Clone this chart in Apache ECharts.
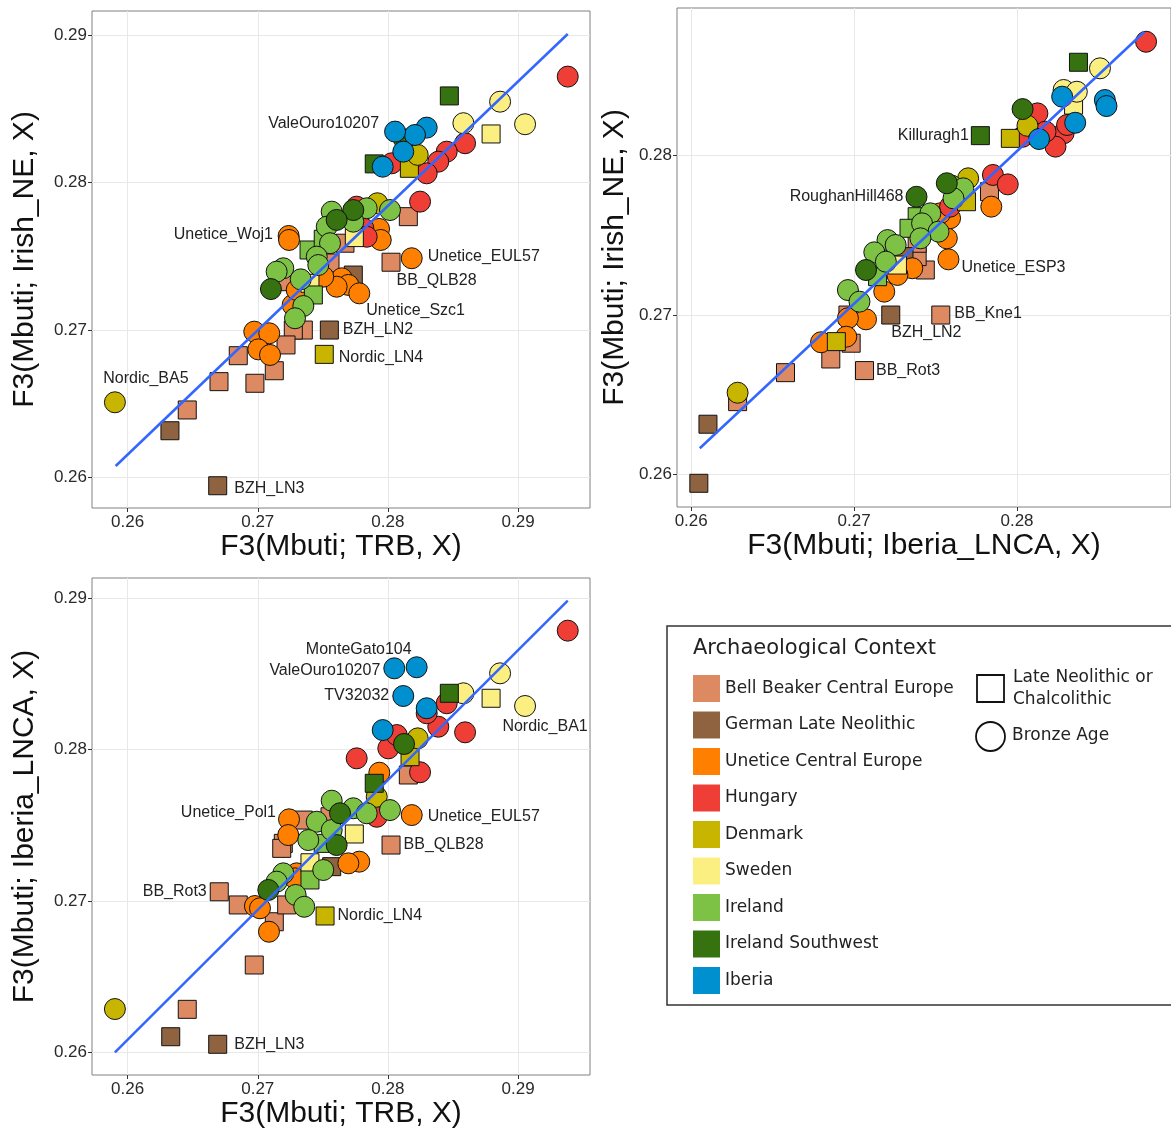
<!DOCTYPE html>
<html><head><meta charset="utf-8">
<script src="https://cdn.jsdelivr.net/npm/echarts@6/dist/echarts.min.js"></script>
<style>html,body{margin:0;padding:0;background:#fff}#c{width:1171px;height:1140px}</style>
</head><body><div id="c"></div>
<script>
// ---------- categories ----------
const groupNames = ['Bell Beaker Central Europe','German Late Neolithic','Unetice Central Europe','Hungary','Denmark','Sweden','Ireland','Ireland Southwest','Iberia'];
const groupColors = ['#DD8A63','#8F6340','#FF8000','#EE3E36','#C8B500','#FCEF82','#7DC245','#377210','#0090CF'];
const periodNames = ['Late Neolithic or\nChalcolithic','Bronze Age'];

// ---------- tick labels ----------
const ticksTRB = [0.26,0.27,0.28,0.29];
const minorTRB = [0.265,0.275,0.285,0.295];
const ticksIrishNE = [0.26,0.27,0.28,0.29];
const ticksIrishNE2 = [0.26,0.27,0.28];
const minorY = [0.265,0.275,0.285];
const ticksIberia = [0.26,0.27,0.28];
const minorIberia = [0.265,0.275,0.285];

// ---------- panel 1: x = F3(Mbuti; TRB, X), y = F3(Mbuti; Irish_NE, X) ----------
// [x, y, period ('LN' square / 'BA' circle), label]
const p1_BellBeaker = [[0.28157,0.27768,'LN'],[0.28024,0.27459,'LN','BB_QLB28'],[0.2735,0.26999,'LN'],[0.27273,0.26999,'LN'],[0.27217,0.26898,'LN'],[0.2685,0.26825,'LN'],[0.27127,0.26723,'LN'],[0.26702,0.26649,'LN'],[0.26978,0.26638,'LN'],[0.26458,0.26457,'LN'],[0.27222,0.27327,'LN'],[0.27555,0.27454,'LN'],[0.2767,0.27588,'LN']];
const p1_GermanLN = [[0.2755,0.26999,'LN','BZH_LN2'],[0.27734,0.27372,'LN'],[0.26325,0.26316,'LN'],[0.26692,0.25943,'LN','BZH_LN3']];
const p1_Unetice = [[0.27237,0.27637,'BA'],[0.2724,0.2761,'BA','Unetice_Woj1'],[0.28183,0.27486,'BA','Unetice_EUL57'],[0.27645,0.2735,'BA'],[0.27696,0.27305,'BA'],[0.27606,0.27293,'BA'],[0.27503,0.27361,'BA'],[0.2778,0.27248,'BA','Unetice_Szc1'],[0.27932,0.27685,'BA'],[0.27945,0.2761,'BA'],[0.26973,0.26988,'BA'],[0.27088,0.26977,'BA'],[0.27004,0.26868,'BA'],[0.27094,0.2683,'BA'],[0.27268,0.27169,'BA'],[0.27299,0.27271,'BA']];
const p1_Hungary = [[0.29382,0.28718,'BA'],[0.28593,0.28266,'BA'],[0.28452,0.28209,'BA'],[0.28387,0.28141,'BA'],[0.28298,0.28062,'BA'],[0.28247,0.2787,'BA'],[0.28029,0.2813,'BA'],[0.27811,0.27689,'BA'],[0.2776,0.27836,'BA'],[0.27837,0.27632,'BA']];
const p1_Denmark = [[0.28165,0.28096,'LN'],[0.27511,0.26834,'LN','Nordic_LN4'],[0.28229,0.28187,'BA'],[0.27919,0.27859,'BA'],[0.25902,0.26509,'BA','Nordic_BA5']];
const p1_Sweden = [[0.28793,0.28329,'LN'],[0.27742,0.27626,'LN'],[0.27401,0.27316,'LN'],[0.28862,0.28548,'BA'],[0.2858,0.28402,'BA'],[0.29054,0.28395,'BA']];
const p1_Ireland = [[0.27394,0.27542,'LN'],[0.27503,0.27615,'LN'],[0.27427,0.27237,'LN'],[0.27568,0.27802,'BA'],[0.27837,0.27825,'BA'],[0.28016,0.27813,'BA'],[0.27734,0.27734,'BA'],[0.2753,0.277,'BA'],[0.27555,0.27588,'BA'],[0.27453,0.27497,'BA'],[0.27465,0.2744,'BA'],[0.27196,0.27418,'BA'],[0.27145,0.27395,'BA'],[0.2733,0.27343,'BA'],[0.2735,0.27162,'BA'],[0.27286,0.27079,'BA']];
const p1_IrelandSW = [[0.28472,0.28587,'LN'],[0.27895,0.28126,'LN'],[0.27734,0.27813,'BA'],[0.27606,0.27746,'BA'],[0.27101,0.27277,'BA'],[0.28124,0.28293,'BA']];
const p1_Iberia = [[0.28298,0.28372,'BA'],[0.28208,0.28322,'BA'],[0.28118,0.28209,'BA'],[0.2796,0.28107,'BA'],[0.28055,0.28345,'BA','ValeOuro10207']];
const p1_fit = [[0.25908,0.26077],[0.29382,0.29007]];

// ---------- panel 2: x = F3(Mbuti; Iberia_LNCA, X), y = F3(Mbuti; Irish_NE, X) ----------
const p2_BellBeaker = [[0.27532,0.26999,'LN','BB_Kne1'],[0.27064,0.2665,'LN','BB_Rot3'],[0.26579,0.26637,'LN'],[0.26857,0.26723,'LN'],[0.26285,0.26455,'LN'],[0.26982,0.26822,'LN'],[0.26962,0.26999,'LN'],[0.27437,0.27282,'LN'],[0.27387,0.27366,'LN'],[0.27387,0.2745,'LN'],[0.27831,0.27774,'LN']];
const p2_GermanLN = [[0.27225,0.26999,'LN','BZH_LN2'],[0.26103,0.26313,'LN'],[0.26047,0.25942,'LN'],[0.27306,0.27366,'LN']];
const p2_Unetice = [[0.27579,0.27349,'BA','Unetice_ESP3'],[0.27842,0.2768,'BA'],[0.27569,0.27481,'BA'],[0.27589,0.27607,'BA'],[0.27357,0.27293,'BA'],[0.27266,0.27251,'BA'],[0.27185,0.27146,'BA'],[0.27073,0.26972,'BA'],[0.26962,0.26979,'BA'],[0.26952,0.26863,'BA'],[0.26797,0.26828,'BA'],[0.27528,0.27638,'BA']];
const p2_Hungary = [[0.28792,0.28716,'BA'],[0.28125,0.28266,'BA'],[0.28286,0.28141,'BA'],[0.28236,0.28057,'BA'],[0.28307,0.28193,'BA'],[0.28175,0.28151,'BA'],[0.27852,0.27879,'BA'],[0.27943,0.2782,'BA'],[0.27589,0.2768,'BA'],[0.28034,0.28119,'BA']];
const p2_Denmark = [[0.27959,0.28109,'LN'],[0.2769,0.27711,'LN'],[0.26891,0.26832,'LN'],[0.28064,0.28188,'BA'],[0.277,0.27858,'BA'],[0.26285,0.26511,'BA']];
const p2_Sweden = [[0.28347,0.28318,'LN'],[0.27266,0.27313,'LN'],[0.28509,0.28549,'BA'],[0.28286,0.28413,'BA'],[0.28367,0.28402,'BA']];
const p2_Ireland = [[0.27387,0.27617,'LN'],[0.27337,0.27544,'LN'],[0.27144,0.2724,'LN'],[0.27599,0.27812,'BA'],[0.2767,0.27795,'BA'],[0.2761,0.27732,'BA'],[0.27468,0.27638,'BA'],[0.27417,0.27575,'BA'],[0.27518,0.27523,'BA'],[0.27407,0.27481,'BA'],[0.27205,0.2747,'BA'],[0.27255,0.27439,'BA'],[0.27124,0.27393,'BA'],[0.27195,0.27334,'BA'],[0.26962,0.27156,'BA'],[0.27033,0.27083,'BA']];
const p2_IrelandSW = [[0.28377,0.28587,'LN'],[0.27775,0.28126,'LN','Killuragh1'],[0.28034,0.28293,'BA'],[0.27569,0.27827,'BA'],[0.27073,0.27282,'BA'],[0.27383,0.27742,'BA','RoughanHill468']];
const p2_Iberia = [[0.28277,0.28371,'BA'],[0.28539,0.2835,'BA'],[0.28549,0.28312,'BA'],[0.28357,0.28207,'BA'],[0.28135,0.28105,'BA']];
const p2_fit = [[0.26053,0.26162],[0.28782,0.28779]];

// ---------- panel 3: x = F3(Mbuti; TRB, X), y = F3(Mbuti; Iberia_LNCA, X) ----------
const p3_BellBeaker = [[0.28024,0.2737,'LN','BB_QLB28'],[0.26704,0.27061,'LN','BB_Rot3'],[0.2685,0.26974,'LN'],[0.26973,0.26577,'LN'],[0.26458,0.26284,'LN'],[0.28157,0.27833,'LN'],[0.2735,0.27535,'LN'],[0.27196,0.27381,'LN'],[0.27184,0.27348,'LN'],[0.27127,0.26863,'LN'],[0.27222,0.26974,'LN'],[0.27555,0.27557,'LN']];
const p3_GermanLN = [[0.26692,0.26053,'LN','BZH_LN3'],[0.26331,0.26103,'LN'],[0.27568,0.27227,'LN']];
const p3_Unetice = [[0.2724,0.2754,'BA','Unetice_Pol1'],[0.27234,0.27436,'BA'],[0.28183,0.27568,'BA','Unetice_EUL57'],[0.2778,0.2726,'BA'],[0.27696,0.27249,'BA'],[0.27934,0.27848,'BA'],[0.27939,0.27601,'BA'],[0.26978,0.26967,'BA'],[0.27017,0.26952,'BA'],[0.27086,0.26797,'BA'],[0.27299,0.27183,'BA'],[0.27286,0.2715,'BA']];
const p3_Hungary = [[0.29382,0.28787,'BA'],[0.28593,0.28115,'BA'],[0.28387,0.28152,'BA'],[0.28452,0.28307,'BA'],[0.28298,0.28241,'BA'],[0.28247,0.27851,'BA'],[0.2776,0.27943,'BA'],[0.28003,0.28009,'BA'],[0.28068,0.28097,'BA'],[0.27914,0.27557,'BA']];
const p3_Denmark = [[0.2817,0.27954,'LN'],[0.27517,0.26901,'LN','Nordic_LN4'],[0.28229,0.28075,'BA'],[0.25902,0.26286,'BA'],[0.27914,0.27689,'BA']];
const p3_Sweden = [[0.28793,0.2834,'LN'],[0.27742,0.27443,'LN'],[0.27401,0.27253,'LN'],[0.28862,0.28505,'BA'],[0.2858,0.28373,'BA'],[0.29054,0.28289,'BA','Nordic_BA1']];
const p3_Ireland = [[0.27503,0.27381,'LN'],[0.27401,0.27139,'LN'],[0.27568,0.27663,'BA'],[0.27453,0.27524,'BA'],[0.27734,0.27613,'BA'],[0.27837,0.2758,'BA'],[0.28016,0.27601,'BA'],[0.27568,0.27469,'BA'],[0.27388,0.27403,'BA'],[0.27503,0.27205,'BA'],[0.27196,0.27183,'BA'],[0.27145,0.27128,'BA'],[0.27291,0.2704,'BA'],[0.27357,0.26962,'BA']];
const p3_IrelandSW = [[0.28472,0.28373,'LN'],[0.27895,0.27778,'LN'],[0.28124,0.28038,'BA'],[0.27606,0.2737,'BA'],[0.27632,0.2758,'BA'],[0.27081,0.27073,'BA']];
const p3_Iberia = [[0.28298,0.28274,'BA'],[0.2796,0.2813,'BA'],[0.28221,0.28545,'BA','MonteGato104'],[0.28049,0.28538,'BA','ValeOuro10207'],[0.28118,0.28355,'BA','TV32032']];
const p3_fit = [[0.25902,0.26],[0.29382,0.28985]];

// ---------- layout / style (not data) ----------
const panels = [
  {groups:[p1_BellBeaker,p1_GermanLN,p1_Unetice,p1_Hungary,p1_Denmark,p1_Sweden,p1_Ireland,p1_IrelandSW,p1_Iberia], fit:p1_fit,
   grid:{left:92,top:11,width:498,height:497}, x:[0.25726,0.29553], y:[0.25792,0.29163],
   xt:ticksTRB, xm:minorTRB, yt:ticksIrishNE, ym:minorY, xname:'F3(Mbuti; TRB, X)', yname:'F3(Mbuti; Irish_NE, X)', ygap:52,
   labels:{ValeOuro10207:['left',[0,-8]],Unetice_Woj1:['left',[0,-5]],Unetice_EUL57:['right',[0,-2]],BB_QLB28:['right',[-9,18]],Unetice_Szc1:['right',[-9,17]],BZH_LN2:['right',[-1,0]],Nordic_LN4:['right',[0,3]],Nordic_BA5:['top',[31,0]],BZH_LN3:['right',[2,3]]}},
  {groups:[p2_BellBeaker,p2_GermanLN,p2_Unetice,p2_Hungary,p2_Denmark,p2_Sweden,p2_Ireland,p2_IrelandSW,p2_Iberia], fit:p2_fit,
   grid:{left:677,top:8,width:500,height:499}, x:[0.25913,0.28945], y:[0.25793,0.28928],
   xt:ticksIberia, xm:minorIberia, yt:ticksIrishNE2, ym:minorY, xname:'F3(Mbuti; Iberia_LNCA, X)', yname:'F3(Mbuti; Irish_NE, X)', ygap:47,
   labels:{Killuragh1:['left',[3,0]],RoughanHill468:['left',[3,0]],Unetice_ESP3:['right',[-3,8]],BB_Kne1:['right',[-1,-1]],BZH_LN2:['right',[-14,18]],BB_Rot3:['right',[-3,0]]}},
  {groups:[p3_BellBeaker,p3_GermanLN,p3_Unetice,p3_Hungary,p3_Denmark,p3_Sweden,p3_Ireland,p3_IrelandSW,p3_Iberia], fit:p3_fit,
   grid:{left:92,top:578,width:498,height:497}, x:[0.25726,0.29553], y:[0.2585,0.29135],
   xt:ticksTRB, xm:minorTRB, yt:ticksIrishNE, ym:minorY, xname:'F3(Mbuti; TRB, X)', yname:'F3(Mbuti; Iberia_LNCA, X)', ygap:52,
   labels:{MonteGato104:['left',[11,-18]],ValeOuro10207:['left',[2,2]],TV32032:['left',[2,0]],Nordic_BA1:['bottom',[20,-3]],Unetice_Pol1:['left',[3,-7]],Unetice_EUL57:['right',[0,2]],BB_QLB28:['right',[-2,0]],BB_Rot3:['left',[2,0]],Nordic_LN4:['right',[-2,0]],BZH_LN3:['right',[2,0]]}}
];

const FONT = 'Liberation Sans, Arial, Helvetica, sans-serif';
const LFONT = 'DejaVu Sans, Verdana, sans-serif';

const grids = [], xAxes = [], yAxes = [], series = [];
panels.forEach((p, i) => {
  grids.push(Object.assign({show:true, borderColor:'#808080', borderWidth:1, backgroundColor:'#fff'}, p.grid));
  const common = {
    type:'value', gridIndex:i, scale:true,
    axisLine:{show:false}, splitLine:{show:false},
    axisTick:{show:true, customValues:null, length:4, lineStyle:{color:'#333', width:1}},
    axisLabel:{customValues:null, fontSize:17, color:'#2a2a2a', fontFamily:FONT},
    nameLocation:'middle', nameTextStyle:{fontSize:30, color:'#111', fontFamily:FONT}
  };
  const fmt = v => v.toFixed(2);
  const xa = JSON.parse(JSON.stringify(common));
  xa.axisLabel.formatter = fmt;
  xa.min = p.x[0]; xa.max = p.x[1];
  xa.axisTick.customValues = p.xt; xa.axisLabel.customValues = p.xt; xa.axisLabel.margin = 6;
  xa.name = p.xname; xa.nameGap = 24;
  xAxes.push(xa);
  const ya = JSON.parse(JSON.stringify(common));
  ya.axisLabel.formatter = fmt;
  ya.min = p.y[0]; ya.max = p.y[1];
  ya.axisTick.customValues = p.yt; ya.axisLabel.customValues = p.yt; ya.axisLabel.margin = 5;
  ya.name = p.yname; ya.nameGap = p.ygap;
  yAxes.push(ya);

  // grid lines through the axes' scales
  const gl = (vals, key, color) => vals.map(v => ({[key]: v, lineStyle:{color:color, width:1, type:'solid'}}));
  series.push({type:'scatter', xAxisIndex:i, yAxisIndex:i, data:[], silent:true,
    markLine:{silent:true, symbol:'none', label:{show:false}, z:1, animation:false,
      data:[].concat(gl(p.xm,'xAxis','#f3f3f3'), gl(p.ym,'yAxis','#f3f3f3'), gl(p.xt,'xAxis','#e8e8e8'), gl(p.yt,'yAxis','#e8e8e8'))}});

  p.groups.forEach((arr, g) => {
    series.push({
      type:'scatter', name:groupNames[g], xAxisIndex:i, yAxisIndex:i, z:2,
      itemStyle:{color:groupColors[g], borderColor:'#111', borderWidth:1, opacity:1},
      emphasis:{disabled:true},
      data: arr.map(d => {
        const item = {value:[d[0], d[1]], symbol: d[2]==='LN' ? 'rect' : 'circle', symbolSize: d[2]==='LN' ? 18 : 21};
        if (d[3]) {
          const pl = p.labels[d[3]] || ['right',[0,0]];
          item.name = d[3];
          item.label = {show:true, formatter:d[3], position:pl[0], offset:pl[1], distance:5,
            fontSize:16, color:'#222', fontFamily:FONT};
        }
        return item;
      })
    });
  });
  series.push({type:'line', xAxisIndex:i, yAxisIndex:i, data:p.fit, symbol:'none', z:3, silent:true,
    lineStyle:{color:'#3366FF', width:2.5}});
});

const chart = echarts.init(document.getElementById('c'), null, {renderer:'canvas'});
chart.setOption({
  animation:false,
  backgroundColor:'#fff',
  grid:grids, xAxis:xAxes, yAxis:yAxes, series:series,
  legend:{data:groupNames, orient:'vertical', left:693, top:675, padding:0, itemWidth:27, itemHeight:27, itemGap:9.5,
    icon:'rect', itemStyle:{borderWidth:0}, selectedMode:false,
    textStyle:{fontFamily:LFONT, fontSize:17, color:'#222'}},
  graphic:[
    {type:'rect', shape:{x:667, y:626, width:520, height:379}, style:{fill:'none', stroke:'#333', lineWidth:1.5}, z:-1},
    {type:'text', x:693, y:649, style:{text:'Archaeological Context', fontFamily:LFONT, fontSize:21, fill:'#222', verticalAlign:'middle'}},
    {type:'rect', shape:{x:977, y:675, width:27, height:27}, style:{fill:'none', stroke:'#111', lineWidth:1.8}},
    {type:'text', x:1013, y:689, style:{text:periodNames[0], fontFamily:LFONT, fontSize:17, fill:'#222', verticalAlign:'middle', lineHeight:22}},
    {type:'circle', shape:{cx:990.5, cy:736.5, r:14.5}, style:{fill:'none', stroke:'#111', lineWidth:1.8}},
    {type:'text', x:1012, y:736, style:{text:periodNames[1], fontFamily:LFONT, fontSize:17, fill:'#222', verticalAlign:'middle'}}
  ]
});
</script></body></html>
